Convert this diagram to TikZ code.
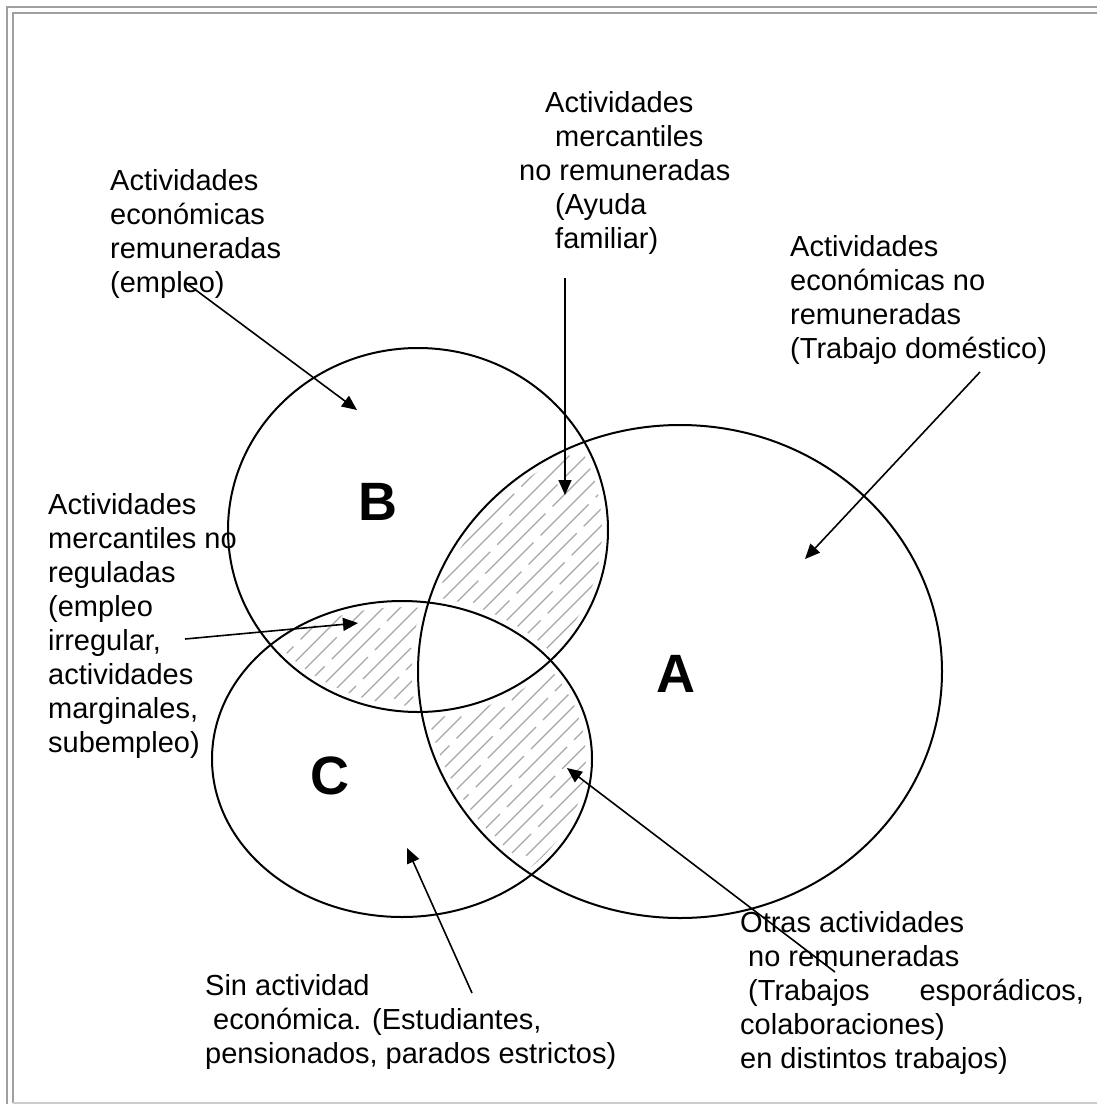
\documentclass[tikz,border=0pt]{standalone}
\usepackage{fontspec}
\setmainfont{Liberation Sans}
\usetikzlibrary{arrows.meta}

\begin{document}
\begin{tikzpicture}[x=1pt,y=-1pt,
  elipse/.style={line width=2pt},
  rayado/.style={gray!70,line width=1.2pt,dash pattern=on 85pt off 10pt},
  marco/.style={gray!75,line width=2pt},
  flecha/.style={line width=1.6pt,-{Triangle[length=15pt,width=13pt]}},
  texto/.style={align=left,anchor=base west,inner sep=0pt,font=\fontsize{29}{34}\selectfont},
  letra/.style={inner sep=0pt,font=\fontsize{54}{60}\selectfont\bfseries},
  radA/.style={x radius=262,y radius=246.5},
  radB/.style={x radius=190,y radius=182},
  radC/.style={x radius=190,y radius=158}]
  \useasboundingbox (0,0) rectangle (1096,1104);
  % marco
  \draw[marco] (6.5,1110) -- (6.5,6.5) -- (1110,6.5);
  \draw[marco] (12.5,1102.5) -- (12.5,12.5) -- (1110,12.5);
  \draw[marco,gray!40] (12.5,1102.5) -- (1110,1102.5);

  \coordinate (cA) at (680,671.5);
  \coordinate (cB) at (418,530);
  \coordinate (cC) at (402,759);

  % zonas rayadas
  \begin{scope}
    \clip (cA) ellipse [radA];
    \clip (cB) ellipse [radB];
    \foreach \k in {-10,...,45}
      \draw[rayado,dash phase={(\k+20)*41pt}] (\k*17-300,1104) -- ++(1104,-1104);
  \end{scope}
  \begin{scope}
    \clip (cB) ellipse [radB];
    \clip (cC) ellipse [radC];
    \foreach \k in {-10,...,45}
      \draw[rayado,dash phase={(\k+20)*41pt}] (\k*17-300,1104) -- ++(1104,-1104);
  \end{scope}
  \begin{scope}
    \clip (cA) ellipse [radA];
    \clip (cC) ellipse [radC];
    \foreach \k in {-10,...,45}
      \draw[rayado,dash phase={(\k+20)*41pt}] (\k*17-300,1104) -- ++(1104,-1104);
  \end{scope}
  \begin{scope}
    \clip (cA) ellipse [radA];
    \clip (cB) ellipse [radB];
    \fill[white] (cC) ellipse [radC];
  \end{scope}
  \draw[white,line width=12pt] (cA) ellipse [radA];
  \draw[white,line width=12pt] (cB) ellipse [radB];
  \draw[white,line width=12pt] (cC) ellipse [radC];

  % elipses
  \draw[elipse] (cA) ellipse [radA];
  \draw[elipse] (cB) ellipse [radB];
  \draw[elipse] (cC) ellipse [radC];

  \node[letra] (lA) at (676,674) {A};
  \node[letra] (lB) at (378,502) {B};
  \node[letra] (lC) at (330,776) {C};

  % textos (anclados en la linea base de la ultima linea)
  \node[texto] (tEmpleo) at (110,292) {Actividades\\económicas\\remuneradas\\(empleo)};
  \node[texto] (tAyuda) at (519,248) {\hspace*{26pt}Actividades\\\hspace*{36pt}mercantiles\\no remuneradas\\\hspace*{36pt}(Ayuda\\\hspace*{36pt}familiar)};
  \node[texto] (tDomestico) at (790,358) {Actividades\\económicas no\\remuneradas\\(Trabajo doméstico)};
  \node[texto] (tIrregular) at (48,752) {Actividades\\mercantiles no\\reguladas\\(empleo\\irregular,\\actividades\\marginales,\\subempleo)};
  \node[texto] (tSin) at (205,1063) {Sin actividad\\\hspace*{8pt}económica. (Estudiantes,\\pensionados, parados estrictos)};
  \node[texto] (tOtras) at (740,1068) {Otras actividades\\\hspace*{8pt}no remuneradas\\\hspace*{8pt}(Trabajos\hspace*{50pt}esporádicos,\\colaboraciones)\\en distintos trabajos)};

  % flechas
  \coordinate (colaEmpleo) at (185,282);
  \coordinate (puntaEmpleo) at (357,410);
  \coordinate (colaAyuda) at (565,278);
  \coordinate (puntaAyuda) at (565,495);
  \coordinate (colaDom) at (980,372);
  \coordinate (puntaDom) at (805,559);
  \coordinate (colaIrr) at (185,639);
  \coordinate (puntaIrr) at (358,623);
  \coordinate (colaSin) at (472,993);
  \coordinate (puntaSin) at (407,848);
  \coordinate (colaOtras) at (835,972);
  \coordinate (puntaOtras) at (567,768);
  \draw[flecha] (colaEmpleo) -- (puntaEmpleo);
  \draw[flecha] (colaAyuda) -- (puntaAyuda);
  \draw[flecha] (colaDom) -- (puntaDom);
  \draw[flecha] (colaIrr) -- (puntaIrr);
  \draw[flecha] (colaSin) -- (puntaSin);
  \draw[flecha] (colaOtras) -- (puntaOtras);
\end{tikzpicture}
\end{document}
